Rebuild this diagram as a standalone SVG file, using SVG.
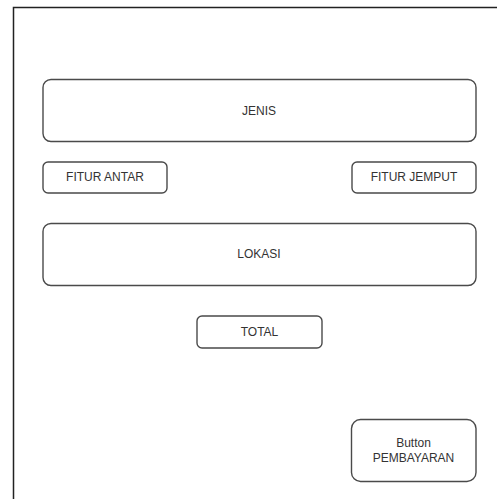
<svg xmlns="http://www.w3.org/2000/svg" width="497" height="499" viewBox="0 0 497 499">
<style>
.box{fill:#fff;stroke:#4a4a4a;stroke-width:1.4}
.lbl{font-family:"Liberation Sans",Arial,sans-serif;font-size:12px;fill:#333;text-anchor:middle;dominant-baseline:central}
.frame{fill:none;stroke:#222;stroke-width:1.5}
</style>
<rect width="497" height="499" fill="#fff"/>
<path class="frame" d="M13.5,499 V7.5 H497"/>
<g id="jenis"><rect class="box" x="43" y="79.5" width="433" height="62" rx="8"/><text class="lbl" x="259" y="110.5">JENIS</text></g>
<g id="fitur-antar"><rect class="box" x="43" y="162" width="124" height="31" rx="5"/><text class="lbl" x="105" y="177">FITUR ANTAR</text></g>
<g id="fitur-jemput"><rect class="box" x="352" y="162" width="124" height="31" rx="5"/><text class="lbl" x="414" y="177">FITUR JEMPUT</text></g>
<g id="lokasi"><rect class="box" x="43" y="223.5" width="433" height="62" rx="8"/><text class="lbl" x="259" y="254">LOKASI</text></g>
<g id="total"><rect class="box" x="197" y="316" width="125" height="32" rx="5"/><text class="lbl" x="259.5" y="331.5">TOTAL</text></g>
<g id="button"><rect class="box" x="351.5" y="419.5" width="124.5" height="62" rx="9"/><text class="lbl" x="413.5" y="443">Button</text><text class="lbl" x="413.5" y="458">PEMBAYARAN</text></g>
<g id="connectors"></g>
</svg>
